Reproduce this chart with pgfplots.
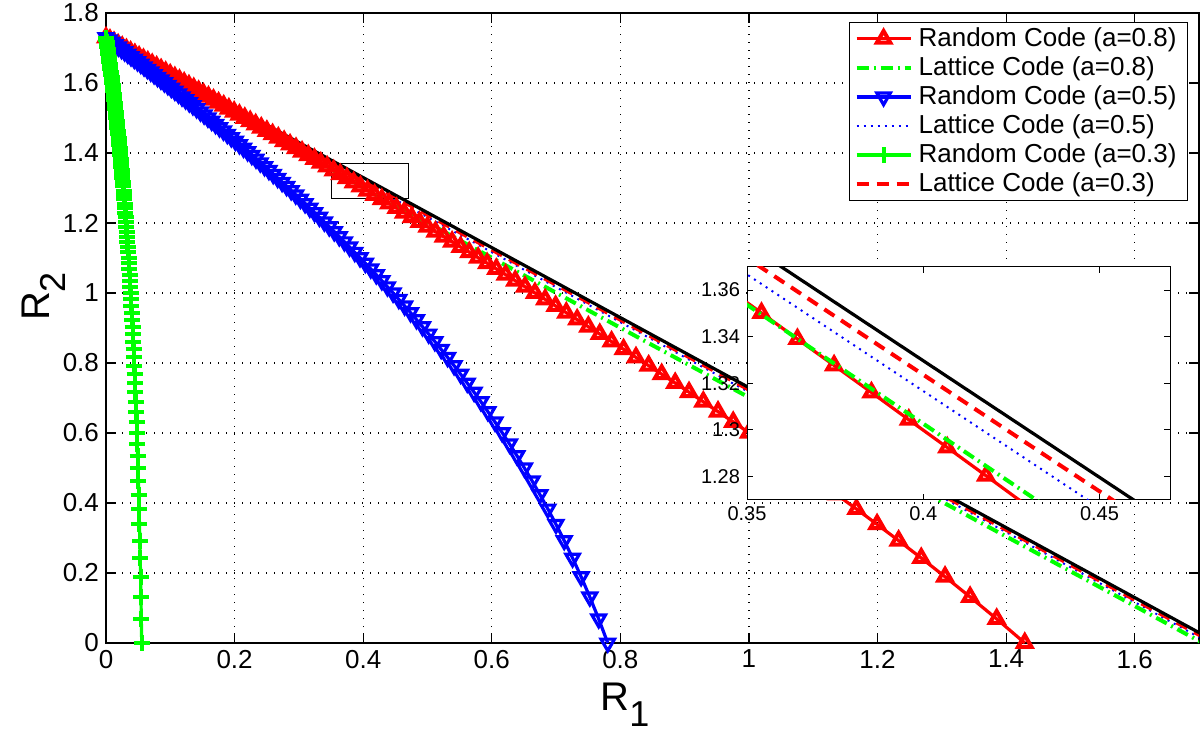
\documentclass[border=0pt]{standalone}
\usepackage{fontspec}
\setmainfont{Liberation Sans}
\usepackage{pgfplots}
\usepackage{pgfplotstable}
\pgfplotsset{compat=1.18}

% R2 and the R1 of the three random-code curves, one row per power split
\pgfplotstableread{
rtwo red blue green
0.0000 1.4290 0.7804 0.05552
0.0688 1.3853 0.7663 0.05494
0.1315 1.3440 0.7525 0.05437
0.1893 1.3050 0.7390 0.05379
0.2427 1.2680 0.7257 0.05322
0.2925 1.2328 0.7127 0.05264
0.3390 1.1993 0.6999 0.05207
0.3828 1.1672 0.6873 0.05149
0.4240 1.1365 0.6749 0.05092
0.4630 1.1071 0.6628 0.05034
0.5000 1.0788 0.6508 0.04977
0.5352 1.0515 0.6391 0.04920
0.5688 1.0253 0.6276 0.04863
0.6008 1.0000 0.6162 0.04806
0.6315 0.9755 0.6050 0.04749
0.6610 0.9519 0.5940 0.04692
0.6893 0.9290 0.5832 0.04635
0.7165 0.9068 0.5725 0.04578
0.7427 0.8853 0.5619 0.04521
0.7680 0.8643 0.5516 0.04464
0.7925 0.8440 0.5414 0.04407
0.8161 0.8243 0.5313 0.04350
0.8390 0.8050 0.5213 0.04293
0.8612 0.7863 0.5115 0.04237
0.8828 0.7680 0.5019 0.04180
0.9037 0.7502 0.4923 0.04124
0.9240 0.7328 0.4829 0.04067
0.9438 0.7159 0.4737 0.04010
0.9630 0.6993 0.4645 0.03954
0.9817 0.6831 0.4554 0.03897
1.0000 0.6672 0.4465 0.03841
1.0178 0.6517 0.4377 0.03785
1.0352 0.6365 0.4290 0.03728
1.0522 0.6216 0.4204 0.03672
1.0688 0.6071 0.4118 0.03616
1.0850 0.5928 0.4034 0.03560
1.1008 0.5788 0.3951 0.03504
1.1163 0.5650 0.3869 0.03448
1.1315 0.5515 0.3788 0.03392
1.1464 0.5383 0.3708 0.03336
1.1610 0.5253 0.3628 0.03279
1.1752 0.5125 0.3550 0.03224
1.1893 0.5000 0.3472 0.03168
1.2030 0.4877 0.3396 0.03112
1.2165 0.4755 0.3320 0.03057
1.2297 0.4636 0.3244 0.03001
1.2427 0.4519 0.3170 0.02945
1.2555 0.4403 0.3096 0.02889
1.2680 0.4290 0.3024 0.02834
1.2804 0.4178 0.2951 0.02778
1.2925 0.4068 0.2880 0.02722
1.3044 0.3959 0.2809 0.02667
1.3161 0.3853 0.2739 0.02612
1.3277 0.3747 0.2670 0.02556
1.3390 0.3643 0.2601 0.02501
1.3502 0.3541 0.2534 0.02446
1.3612 0.3440 0.2466 0.02391
1.3721 0.3341 0.2399 0.02335
1.3828 0.3243 0.2333 0.02280
1.3933 0.3146 0.2268 0.02225
1.4037 0.3050 0.2203 0.02169
1.4139 0.2956 0.2139 0.02115
1.4240 0.2863 0.2075 0.02060
1.4339 0.2771 0.2012 0.02005
1.4438 0.2680 0.1949 0.01950
1.4534 0.2591 0.1887 0.01895
1.4630 0.2502 0.1826 0.01840
1.4724 0.2415 0.1765 0.01785
1.4817 0.2328 0.1704 0.01730
1.4909 0.2243 0.1644 0.01675
1.5000 0.2159 0.1585 0.01621
1.5090 0.2075 0.1526 0.01566
1.5178 0.1993 0.1468 0.01512
1.5266 0.1911 0.1410 0.01457
1.5352 0.1831 0.1352 0.01403
1.5437 0.1751 0.1295 0.01348
1.5522 0.1672 0.1238 0.01294
1.5605 0.1594 0.1182 0.01239
1.5688 0.1517 0.1127 0.01185
1.5769 0.1441 0.1071 0.01131
1.5850 0.1365 0.1016 0.01076
1.5929 0.1290 0.0962 0.01022
1.6008 0.1216 0.0908 0.00968
1.6086 0.1143 0.0854 0.00914
1.6163 0.1071 0.0801 0.00860
1.6240 0.0999 0.0748 0.00806
1.6315 0.0928 0.0696 0.00752
1.6390 0.0857 0.0644 0.00698
1.6464 0.0788 0.0592 0.00643
1.6537 0.0719 0.0541 0.00589
1.6610 0.0650 0.0490 0.00536
1.6681 0.0583 0.0440 0.00482
1.6752 0.0515 0.0389 0.00429
1.6823 0.0449 0.0339 0.00375
1.6893 0.0383 0.0290 0.00322
1.6962 0.0318 0.0241 0.00268
1.7030 0.0253 0.0192 0.00214
1.7098 0.0189 0.0143 0.00161
1.7165 0.0125 0.0095 0.00107
1.7231 0.0062 0.0048 0.00054
1.7297 0.0000 0.0000 0.00000
}\randcodes

% lattice codes, a=0.8
\pgfplotstableread{
x y
0    1.7297
0.01 1.7157
0.03 1.6907
0.05 1.6677
0.10 1.6127
0.15 1.5597
0.20 1.5077
0.30 1.4047
0.35 1.3537
0.45 1.2517
0.55 1.1507
0.70 1.0007
0.85 0.8507
1.00 0.7017
1.15 0.5527
1.30 0.4037
1.45 0.2547
1.60 0.1057
1.7057 0
}\latteight

% lattice codes, a=0.5
\pgfplotstableread{
x y
0    1.7297
0.01 1.7177
0.03 1.6947
0.05 1.6727
0.10 1.6207
0.15 1.5697
0.20 1.5187
0.30 1.4172
0.35 1.3667
0.45 1.2667
0.70 1.0167
1.00 0.7167
1.30 0.4167
1.60 0.1167
1.7167 0
}\lattfive

% lattice codes, a=0.3
\pgfplotstableread{
x y
0    1.7297
0.01 1.7177
0.03 1.6957
0.05 1.6747
0.10 1.6237
0.45 1.2737
1.00 0.7237
1.7237 0
}\lattthree

\pgfplotsset{
  rnd/.style={line width=1.6pt, mark options={solid, line width=2pt}},
  latt8/.style={green, line width=2pt, dash pattern=on 6pt off 2.5pt on 1pt off 2.5pt},
  latt5/.style={blue, line width=1pt, dash pattern=on 1pt off 2.5pt},
  latt3/.style={red, line width=2pt, dash pattern=on 6pt off 4pt},
  bound/.style={black, line width=1.6pt},
}

\begin{document}
\begin{tikzpicture}
\useasboundingbox (-53pt,-45.5pt) rectangle (547pt,321.5pt);
\begin{axis}[
  scale only axis, width=546.5pt, height=315pt,
  xmin=0, xmax=1.7, ymin=0, ymax=1.8,
  xtick={0,0.2,0.4,0.6,0.8,1,1.2,1.4,1.6},
  ytick={0,0.2,0.4,0.6,0.8,1,1.2,1.4,1.6,1.8},
  tick align=inside, major tick length=5pt,
  tick style={black, line width=0.6pt},
  axis line style={line width=0.6pt},
  grid=major,
  major grid style={black, line width=0.6pt, dash pattern=on 0.6pt off 3.4pt},
  tick label style={font=\fontsize{13}{15}\selectfont},
  /pgf/number format/assume math mode=true,
  xlabel={R\raisebox{-8pt}{\fontsize{18}{18}\selectfont 1}},
  ylabel={R\raisebox{-8pt}{\fontsize{18}{18}\selectfont 2}},
  xlabel style={font=\fontsize{20}{24}\selectfont, inner sep=0pt,
    at={(axis description cs:0.452,-0.063)}, anchor=north west},
  ylabel style={font=\fontsize{20}{24}\selectfont, inner sep=0pt,
    at={(axis description cs:-0.0768,0.55)}, anchor=north},
  legend style={at={(0.990,0.986)}, anchor=north east, draw=black,
    line width=0.5pt, font=\fontsize{13}{15}\selectfont,
    inner xsep=2.5pt, inner ysep=1pt,
    nodes={inner xsep=3pt, inner ysep=1.8pt}},
  legend cell align=left,
  legend image code/.code={\draw[mark repeat=2,mark phase=2] plot coordinates {(0pt,0pt) (13.5pt,0pt) (27pt,0pt)};},
]
\addplot[red, rnd, mark=triangle, mark size=3.9pt] table[x=red, y=rtwo] {\randcodes};
\addlegendentry{Random Code (a=0.8)}
\addplot[latt8] table {\latteight};
\addlegendentry{Lattice Code (a=0.8)}
\addplot[blue, rnd, mark=triangle, mark options={rotate=180}, mark size=3.9pt] table[x=blue, y=rtwo] {\randcodes};
\addlegendentry{Random Code (a=0.5)}
\addplot[latt5] table {\lattfive};
\addlegendentry{Lattice Code (a=0.5)}
\addplot[green, rnd, mark=+, mark size=4pt, mark options={line width=2pt}] table[x=green, y=rtwo] {\randcodes};
\addlegendentry{Random Code (a=0.3)}
\addplot[latt3] table {\lattthree};
\addlegendentry{Lattice Code (a=0.3)}
\addplot[bound, forget plot] coordinates {(0,1.7297) (1.7297,0)};
\addplot[black, line width=0.5pt, forget plot] coordinates {(0.35,1.27) (0.47,1.27) (0.47,1.37) (0.35,1.37) (0.35,1.27)};
\end{axis}

% zoomed inset
\begin{axis}[
  at={(320.5pt,71.5pt)}, anchor=south west,
  scale only axis, width=211.5pt, height=116.6pt,
  xmin=0.35, xmax=0.47, ymin=1.27, ymax=1.37,
  xtick={0.35,0.4,0.45}, ytick={1.28,1.3,1.32,1.34,1.36},
  tick align=inside, major tick length=3pt,
  tick style={black, line width=0.5pt},
  axis line style={line width=0.5pt},
  axis background/.style={fill=white},
  tick label style={font=\fontsize{10}{12}\selectfont},
  /pgf/number format/assume math mode=true,
  clip marker paths=true,
]
\addplot[red, rnd, mark=triangle, mark size=3.9pt] table[x=red, y=rtwo] {\randcodes};
\addplot[latt8] table {\latteight};
\addplot[latt5] table {\lattfive};
\addplot[latt3] table {\lattthree};
\addplot[bound] coordinates {(0,1.7297) (1.7297,0)};
\end{axis}
\end{tikzpicture}
\end{document}
